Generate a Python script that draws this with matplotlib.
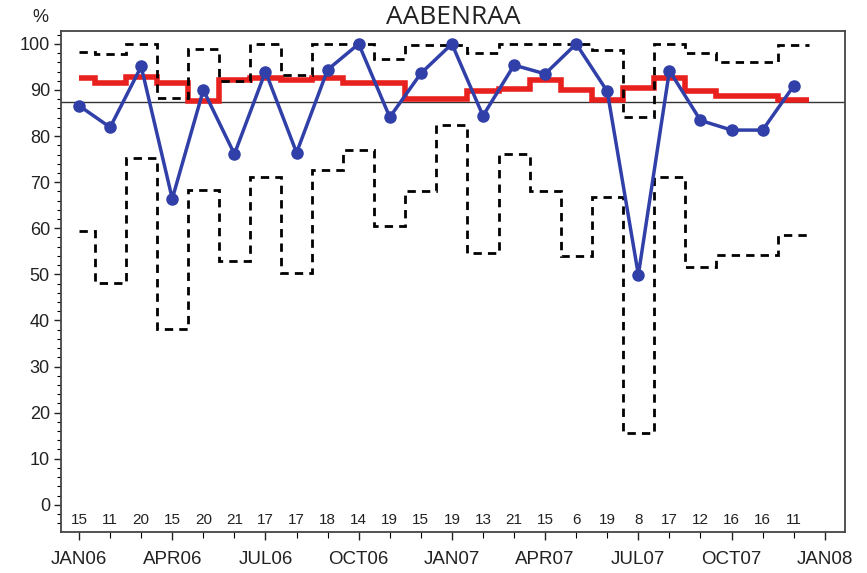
import numpy as np
import matplotlib
matplotlib.use('Agg')
import matplotlib.pyplot as plt
from matplotlib.ticker import MultipleLocator

plt.rcParams['font.family'] = ['Liberation Sans', 'DejaVu Sans']

# monthly values, JAN06 .. DEC07
tick_labels = ['JAN06', 'APR06', 'JUL06', 'OCT06', 'JAN07', 'APR07', 'JUL07', 'OCT07', 'JAN08']
pct = [86.6, 81.9, 95.1, 66.4, 90.0, 76.1, 94.0, 76.4, 94.4, 100, 84.1, 93.6,
       100, 84.4, 95.4, 93.5, 100, 89.7, 49.9, 94.2, 83.4, 81.3, 81.3, 90.9]
centre = [92.6, 91.6, 92.9, 91.5, 87.7, 92.2, 92.6, 92.2, 92.7, 91.5, 91.5, 88.0,
          88.0, 89.7, 90.3, 92.2, 89.9, 87.9, 90.4, 92.5, 89.7, 88.6, 88.7, 87.9]
upper = [98.3, 97.8, 100, 88.3, 98.9, 92.0, 100, 93.2, 100, 100, 96.7, 99.8,
         99.8, 98.1, 100, 100, 100, 98.7, 84.2, 100, 98.1, 96.0, 96.0, 99.8]
lower = [59.5, 48.1, 75.2, 38.2, 68.2, 52.8, 71.2, 50.3, 72.7, 76.9, 60.4, 68.0,
         82.3, 54.7, 76.1, 68.0, 54.0, 66.8, 15.5, 71.2, 51.6, 54.2, 54.2, 58.6]
counts = [15, 11, 20, 15, 20, 21, 17, 17, 18, 14, 19, 15,
          19, 13, 21, 15, 6, 19, 8, 17, 12, 16, 16, 11]
ref_level = 87.5

x = np.arange(len(pct))
edges = np.concatenate([[x[0]], x[:-1] + 0.5, [x[-1] + 0.5]])

fig = plt.figure(figsize=(8.67, 5.73), dpi=100)
ax = fig.add_axes([0.0704, 0.0716, 0.9042, 0.8743])

ax.axhline(ref_level, color='#333333', lw=1.0, zorder=1)
ax.stairs(centre, edges, baseline=None, color='#e8201e', lw=4.0, zorder=2)
ax.stairs(upper, edges, baseline=None, color='black', lw=2.0,
          linestyle=(0, (3, 2.2)), zorder=3)
ax.stairs(lower, edges, baseline=None, color='black', lw=2.0,
          linestyle=(0, (3, 2.2)), zorder=3)
ax.plot(x, pct, color='#3040a8', lw=2.5, marker='o', markersize=8, zorder=4)

for xi, n in zip(x, counts):
    ax.text(xi, -3.3, str(n), ha='center', va='center', fontsize=11, color='#222222')

ax.set_xlim(-0.58, 24.65)
ax.set_ylim(-5.9, 102.8)
ax.set_xticks(np.arange(0, 25, 3))
ax.set_xticklabels(tick_labels, fontsize=13.5)
ax.xaxis.set_minor_locator(MultipleLocator(1))
ax.set_yticks(np.arange(0, 101, 10))
ax.yaxis.set_minor_locator(MultipleLocator(2))
ax.tick_params(axis='y', labelsize=13, length=5, width=1, pad=3, colors='#222222')
ax.tick_params(axis='y', which='minor', length=3, width=0.8)
ax.tick_params(axis='x', length=6, width=1, pad=8, colors='#222222')
ax.tick_params(axis='x', which='minor', length=4, width=0.8)
for s in ax.spines.values():
    s.set_color('#444444')
    s.set_linewidth(1.3)

fig.text(453 / 867, 1 - 18 / 573, 'AABENRAA', ha='center', va='center',
         fontsize=19, family=['Open Sans', 'DejaVu Sans'], color='#222222')
fig.text(40 / 867, 1 - 17 / 573, '%', ha='center', va='center', fontsize=13, color='#222222')

fig.savefig('out.png', dpi=100)
